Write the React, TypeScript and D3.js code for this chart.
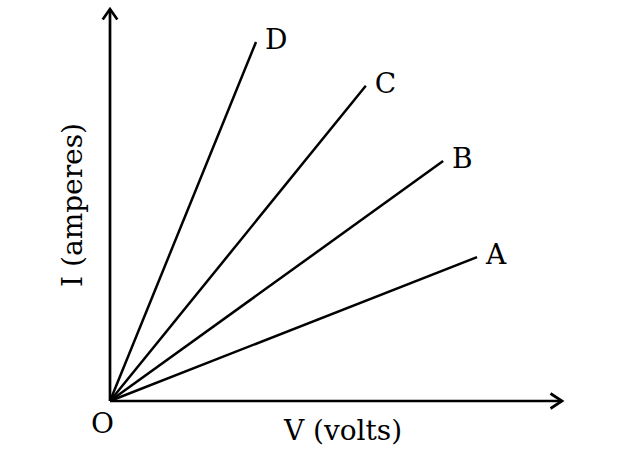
import React from "react";
import * as d3 from "d3";

const labels = ["A", "B", "C", "D"];
const vEnd = [81.2, 73.7, 56.6, 32.3];
const iEnd = [36.7, 61.2, 80.4, 91.6];

const W = 632;
const H = 466;
const FONT = "'DejaVu Serif', serif";

export default function App() {
  const x = d3.scaleLinear().domain([0, 100]).range([110, 562]);
  const y = d3.scaleLinear().domain([0, 100]).range([401, 9]);
  const line = d3.line<[number, number]>().x((d) => x(d[0])).y((d) => y(d[1]));
  const ox = x(0);
  const oy = y(0);
  const tipX = x(100);
  const tipY = y(100);
  return (
    <div style={{ position: "absolute", left: 0, top: 0, width: W, height: H, background: "#fff" }}>
      <svg width={W} height={H} style={{ display: "block" }}>
        <rect width={W} height={H} fill="#fff" />
        {labels.map((l, i) => (
          <g key={l}>
            <path
              d={line([[0, 0], [vEnd[i], iEnd[i]]]) || ""}
              stroke="#000"
              strokeWidth={2.5}
              fill="none"
            />
            <text
              x={x(vEnd[i]) + 9}
              y={y(iEnd[i]) + 7}
              fontFamily={FONT}
              fontSize={28}
              fill="#000"
            >
              {l}
            </text>
          </g>
        ))}
        <line x1={ox} y1={oy} x2={tipX} y2={oy} stroke="#000" strokeWidth={2.7} />
        <line x1={ox} y1={oy} x2={ox} y2={tipY} stroke="#000" strokeWidth={2.7} />
        <path
          d={`M${tipX - 11.5},${oy - 7.5} L${tipX},${oy} L${tipX - 11.5},${oy + 7.5}`}
          stroke="#000"
          strokeWidth={2.7}
          fill="none"
        />
        <path
          d={`M${ox - 7.3},${tipY + 10.5} L${ox},${tipY} L${ox + 7.3},${tipY + 10.5}`}
          stroke="#000"
          strokeWidth={2.7}
          fill="none"
        />
        <text x={91} y={433} fontFamily={FONT} fontSize={28} fill="#000">
          O
        </text>
        <text x={343} y={440} textAnchor="middle" fontFamily={FONT} fontSize={28} fill="#000">
          V (volts)
        </text>
        <text
          transform={`translate(82,205) rotate(-90)`}
          textAnchor="middle"
          fontFamily={FONT}
          fontSize={28}
          fill="#000"
        >
          I (amperes)
        </text>
      </svg>
    </div>
  );
}
